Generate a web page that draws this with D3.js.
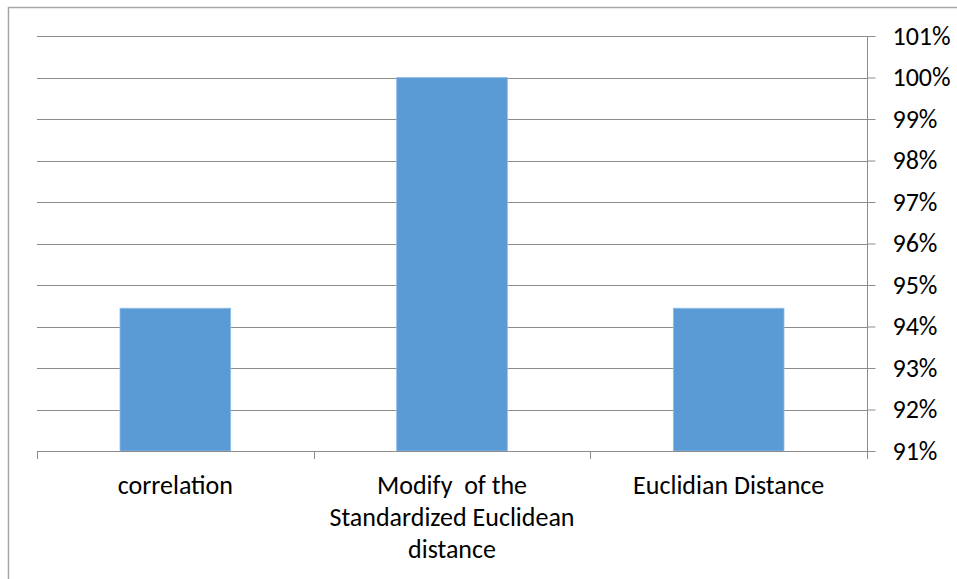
<!DOCTYPE html>
<html>
<head>
<meta charset="utf-8">
<script src="https://cdn.jsdelivr.net/npm/d3@7"></script>
<style>
  html, body { margin: 0; padding: 0; background: #ffffff; }
  svg { display: block; }
  text { font-family: Carlito, Calibri, Lato, "Open Sans", sans-serif; fill: #000; white-space: pre; }
</style>
</head>
<body>
<svg id="chart" width="957" height="579"></svg>
<script>
// Categories (each label split into its display lines)
const categories = ["correlation", "Modify  of the Standardized Euclidean distance", "Euclidian Distance"];
const categoryLines = [
  ["correlation"],
  ["Modify  of the", "Standardized Euclidean", "distance"],
  ["Euclidian Distance"]
];
// Series values (fraction)
const values = [0.9444, 1.0, 0.9444];
// Axis ticks
const yTicks = [0.91, 0.92, 0.93, 0.94, 0.95, 0.96, 0.97, 0.98, 0.99, 1.00, 1.01];
const yTickLabels = ["91%", "92%", "93%", "94%", "95%", "96%", "97%", "98%", "99%", "100%", "101%"];

const svg = d3.select("#chart");
const plot = { left: 37, right: 867, top: 36, bottom: 451 };
const fontSize = 26;

// Outer chart frame (extends past the right and bottom edges)
svg.append("rect")
  .attr("x", 8.5).attr("y", 7.5)
  .attr("width", 1200).attr("height", 800)
  .attr("fill", "none")
  .attr("stroke", "#a6a6a6")
  .attr("stroke-width", 1.5);

const y = d3.scaleLinear().domain([0.91, 1.01]).range([plot.bottom, plot.top]);
const xCat = d3.scaleBand().domain(categories).range([plot.left, plot.right]).padding(0);
const xBar = d3.scaleBand().domain(categories).range([plot.left, plot.right])
  .paddingInner(0.6).paddingOuter(0.3);

// Horizontal gridlines
svg.append("g")
  .selectAll("line")
  .data(yTicks)
  .join("line")
  .attr("x1", plot.left).attr("x2", plot.right)
  .attr("y1", d => Math.round(y(d)) + 0.5)
  .attr("y2", d => Math.round(y(d)) + 0.5)
  .attr("stroke", "#8c8c8c")
  .attr("stroke-width", 1);

// Bars
svg.append("g")
  .selectAll("rect")
  .data(values)
  .join("rect")
  .attr("x", (d, i) => xBar(categories[i]))
  .attr("width", xBar.bandwidth())
  .attr("y", d => y(d))
  .attr("height", d => y(0.91) - y(d))
  .attr("fill", "#5b9bd5")
  .attr("stroke", "#8fbde6")
  .attr("stroke-width", 0.8);

// Right value axis
const yAxis = d3.axisRight(y)
  .tickValues(yTicks)
  .tickFormat((d, i) => yTickLabels[i])
  .tickSize(8)
  .tickPadding(17);
const gy = svg.append("g")
  .attr("transform", `translate(${plot.right + 0.5},0)`)
  .call(yAxis);
gy.select(".domain").attr("stroke", "#8c8c8c").attr("d", `M0,${plot.top}V${plot.bottom}`);
gy.selectAll(".tick line").attr("stroke", "#8c8c8c");
gy.selectAll(".tick text")
  .attr("font-size", fontSize)
  .attr("font-family", "Carlito, Calibri, Lato, sans-serif")
  .attr("fill", "#000");

// Bottom category axis: line and boundary ticks
const boundaries = categories.map(c => xCat(c)).concat([plot.right]);
svg.append("line")
  .attr("x1", plot.left).attr("x2", plot.right)
  .attr("y1", plot.bottom + 0.5).attr("y2", plot.bottom + 0.5)
  .attr("stroke", "#8c8c8c");
svg.append("g")
  .selectAll("line")
  .data(boundaries)
  .join("line")
  .attr("x1", d => Math.round(d) + 0.5).attr("x2", d => Math.round(d) + 0.5)
  .attr("y1", plot.bottom).attr("y2", plot.bottom + 8)
  .attr("stroke", "#8c8c8c");

// Category labels
const labels = svg.append("g")
  .selectAll("text")
  .data(categories)
  .join("text")
  .attr("text-anchor", "middle")
  .attr("font-size", fontSize)
  .attr("x", c => xCat(c) + xCat.bandwidth() / 2)
  .attr("y", 494);
labels.selectAll("tspan")
  .data((c, i) => categoryLines[i])
  .join("tspan")
  .attr("x", function () { return this.parentNode.getAttribute("x"); })
  .attr("dy", (d, i) => i === 0 ? 0 : 32)
  .text(d => d);
</script>
</body>
</html>
